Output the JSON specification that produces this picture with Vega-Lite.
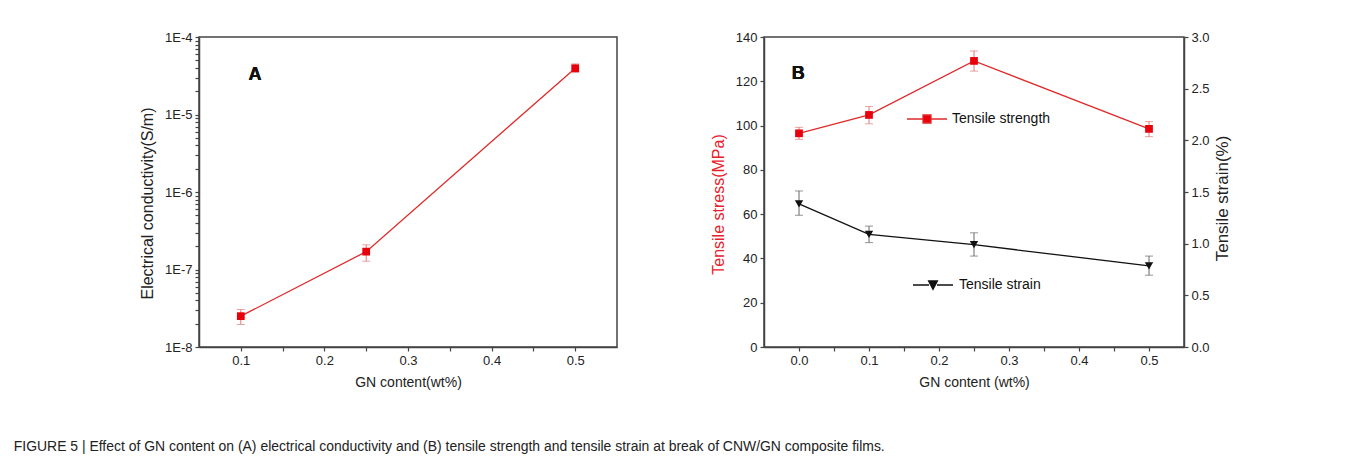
{
  "$schema": "https://vega.github.io/schema/vega-lite/v6.json",
  "background": "white",
  "padding": {"left": 13, "top": 30, "right": 10, "bottom": 10},
  "bounds": "flush",
  "spacing": 147,
  "title": {"text": "FIGURE 5 | Effect of GN content on (A) electrical conductivity and (B) tensile strength and tensile strain at break of CNW/GN composite films.", "orient": "bottom", "anchor": "start", "font": "Liberation Sans", "fontSize": 13.95, "fontWeight": "normal", "color": "#222", "offset": 50, "dx": -125},
  "config": {
    "font": "Liberation Sans",
    "view": {"stroke": "#444", "strokeWidth": 1.5},
    "axis": {"grid": false, "domainColor": "#444", "domainWidth": 1.5, "tickColor": "#444", "tickWidth": 1.2, "tickSize": 4, "labelPadding": 3, "labelFont": "Liberation Sans", "labelFontSize": 13, "labelColor": "#222", "titleFont": "Liberation Sans", "titleFontSize": 14, "titleFontWeight": "normal", "titleColor": "#222", "labelFlush": false, "labelOverlap": false},
    "legend": {"padding": 0}
  },
  "hconcat": [
    {
      "width": 418,
      "height": 310,
      "data": {"values": [
        {"gn": 0.1, "sigma": 2.5e-8, "lo": 1.95e-8, "hi": 3.05e-8},
        {"gn": 0.25, "sigma": 1.7e-7, "lo": 1.28e-7, "hi": 2.08e-7},
        {"gn": 0.5, "sigma": 3.95e-5, "lo": 3.5e-5, "hi": 4.5e-5}
      ]},
      "encoding": {
        "x": {"field": "gn", "type": "quantitative", "scale": {"domain": [0.05, 0.55], "nice": false, "zero": false},
          "axis": {"title": "GN content(wt%)", "titlePadding": 8, "values": [0.1, 0.15, 0.2, 0.25, 0.3, 0.35, 0.4, 0.45, 0.5],
            "labelExpr": "abs(datum.value*10 - round(datum.value*10)) < 1e-6 ? format(datum.value, '.1f') : ''",
            "encode": {"ticks": {"update": {"y": [{"test": "abs(datum.value*10 - round(datum.value*10)) < 1e-6", "value": -4}, {"value": 0}], "y2": [{"test": "abs(datum.value*10 - round(datum.value*10)) < 1e-6", "value": 4}, {"value": -3}]}}}}}
      },
      "layer": [
        {"mark": {"type": "errorbar", "color": "#e07a7a", "thickness": 1, "ticks": {"size": 8, "color": "#e07a7a", "thickness": 1}},
         "encoding": {"y": {"field": "lo", "type": "quantitative", "scale": {"type": "log", "domain": [1e-8, 1e-4], "nice": false},
           "axis": {"title": "Electrical conductivity(S/m)", "titleFontSize": 16, "titleY": 166, "titlePadding": 9,
             "values": [1e-8, 2e-8, 3e-8, 4e-8, 5e-8, 6e-8, 7e-8, 8e-8, 9e-8, 1e-7, 2e-7, 3e-7, 4e-7, 5e-7, 6e-7, 7e-7, 8e-7, 9e-7, 1e-6, 2e-6, 3e-6, 4e-6, 5e-6, 6e-6, 7e-6, 8e-6, 9e-6, 1e-5, 2e-5, 3e-5, 4e-5, 5e-5, 6e-5, 7e-5, 8e-5, 9e-5, 1e-4],
             "labelExpr": "abs(log(datum.value)/LN10 - round(log(datum.value)/LN10)) < 1e-6 ? '1E' + round(log(datum.value)/LN10) : ''",
             "encode": {"ticks": {"update": {"x": [{"test": "abs(log(datum.value)/LN10 - round(log(datum.value)/LN10)) < 1e-6", "value": 4}, {"value": 3}], "x2": [{"test": "abs(log(datum.value)/LN10 - round(log(datum.value)/LN10)) < 1e-6", "value": -4}, {"value": 0}]}}}}},
           "y2": {"field": "hi"}}},
        {"mark": {"type": "line", "color": "#e02a2a", "strokeWidth": 1.3},
         "encoding": {"y": {"field": "sigma", "type": "quantitative", "scale": {"type": "log", "domain": [1e-8, 1e-4], "nice": false}}}},
        {"mark": {"type": "point", "shape": "square", "filled": true, "size": 60, "color": "#e8000b", "opacity": 1},
         "encoding": {"y": {"field": "sigma", "type": "quantitative", "scale": {"type": "log", "domain": [1e-8, 1e-4], "nice": false}}}},
        {"mark": {"type": "text", "text": "A", "font": "Liberation Sans", "fontSize": 18, "fontWeight": "bold", "color": "#111", "align": "center", "baseline": "middle"},
         "encoding": {"x": {"datum": 0.117, "type": "quantitative"}, "y": {"datum": 3.25e-5, "type": "quantitative"}}}
      ]
    },
    {
      "width": 420,
      "height": 310,
      "encoding": {
        "x": {"field": "gn", "type": "quantitative", "scale": {"domain": [-0.05, 0.55], "nice": false, "zero": false},
          "axis": {"title": "GN content (wt%)", "titlePadding": 8, "values": [0, 0.05, 0.1, 0.15, 0.2, 0.25, 0.3, 0.35, 0.4, 0.45, 0.5],
            "labelExpr": "abs(datum.value*10 - round(datum.value*10)) < 1e-6 ? format(datum.value, '.1f') : ''",
            "encode": {"ticks": {"update": {"y": [{"test": "abs(datum.value*10 - round(datum.value*10)) < 1e-6", "value": -4}, {"value": 0}], "y2": [{"test": "abs(datum.value*10 - round(datum.value*10)) < 1e-6", "value": 4}, {"value": -3}]}}}}}
      },
      "layer": [
        {
          "data": {"values": [
            {"gn": 0.0, "stress": 96.5, "lo": 93.8, "hi": 99.2, "series": "Tensile strength"},
            {"gn": 0.1, "stress": 104.8, "lo": 100.8, "hi": 108.6, "series": "Tensile strength"},
            {"gn": 0.25, "stress": 129.2, "lo": 124.6, "hi": 133.7, "series": "Tensile strength"},
            {"gn": 0.5, "stress": 98.5, "lo": 95.0, "hi": 101.8, "series": "Tensile strength"}
          ]},
          "layer": [
            {"mark": {"type": "errorbar", "color": "#e07a7a", "thickness": 1, "ticks": {"size": 8, "color": "#e07a7a", "thickness": 1}},
             "encoding": {"y": {"field": "lo", "type": "quantitative", "scale": {"domain": [0, 140], "nice": false},
                 "axis": {"orient": "left", "title": "Tensile stress(MPa)", "titleFontSize": 16, "titleColor": "#e8202a", "titleY": 167, "titlePadding": 9,
                   "values": [0, 10, 20, 30, 40, 50, 60, 70, 80, 90, 100, 110, 120, 130, 140],
                   "labelExpr": "datum.value % 20 == 0 ? '' + datum.value : ''",
                   "encode": {"ticks": {"update": {"x": [{"test": "datum.value % 20 == 0", "value": 4}, {"value": 3}], "x2": [{"test": "datum.value % 20 == 0", "value": -4}, {"value": 0}]}}}}},
                 "y2": {"field": "hi"}}},
            {"mark": {"type": "line", "strokeWidth": 1.3},
             "encoding": {
               "y": {"field": "stress", "type": "quantitative", "scale": {"domain": [0, 140], "nice": false}},
               "color": {"field": "series", "type": "nominal", "scale": {"domain": ["Tensile strength"], "range": ["#e02a2a"]},
                 "legend": {"orient": "none", "legendX": 142, "legendY": 61, "title": null, "labelFont": "Liberation Sans", "labelFontSize": 14, "labelColor": "#111", "labelOffset": 4,
                   "symbolType": "M-1,0H-0.2M0.2,0H1M-0.2,-0.2H0.2V0.2H-0.2Z", "symbolSize": 1600, "symbolStrokeWidth": 1.3,
                   "encode": {"symbols": {"update": {"fill": {"value": "#e8000b"}, "stroke": {"value": "#e02a2a"}, "opacity": {"value": 1}}}}}}
             }},
            {"mark": {"type": "point", "shape": "square", "filled": true, "size": 60, "color": "#e8000b", "opacity": 1},
             "encoding": {"y": {"field": "stress", "type": "quantitative", "scale": {"domain": [0, 140], "nice": false}}}},
            {"mark": {"type": "text", "text": "B", "font": "Liberation Sans", "fontSize": 18, "fontWeight": "bold", "color": "#111", "align": "center", "baseline": "middle"},
             "encoding": {"x": {"datum": -0.001, "type": "quantitative"}, "y": {"datum": 123.2, "type": "quantitative"}}}
          ]
        },
        {
          "data": {"values": [
            {"gn": 0.0, "strain": 1.385, "lo": 1.275, "hi": 1.51, "series": "Tensile strain"},
            {"gn": 0.1, "strain": 1.09, "lo": 1.01, "hi": 1.17, "series": "Tensile strain"},
            {"gn": 0.25, "strain": 0.99, "lo": 0.88, "hi": 1.105, "series": "Tensile strain"},
            {"gn": 0.5, "strain": 0.785, "lo": 0.695, "hi": 0.88, "series": "Tensile strain"}
          ]},
          "layer": [
            {"mark": {"type": "errorbar", "color": "#666", "thickness": 1, "ticks": {"size": 8, "color": "#666", "thickness": 1}},
             "encoding": {"y": {"field": "lo", "type": "quantitative", "scale": {"domain": [0, 3], "nice": false},
                 "axis": {"orient": "right", "title": "Tensile strain(%)", "titleFontSize": 17, "titleAngle": 270, "titleBaseline": "top", "titleY": 161, "titlePadding": 5,
                   "values": [0, 0.25, 0.5, 0.75, 1, 1.25, 1.5, 1.75, 2, 2.25, 2.5, 2.75, 3],
                   "labelExpr": "abs(datum.value*2 - round(datum.value*2)) < 1e-6 ? format(datum.value, '.1f') : ''",
                   "encode": {"ticks": {"update": {"x": [{"test": "abs(datum.value*2 - round(datum.value*2)) < 1e-6", "value": -4}, {"value": -3}], "x2": [{"test": "abs(datum.value*2 - round(datum.value*2)) < 1e-6", "value": 4}, {"value": 0}]}}}}},
                 "y2": {"field": "hi"}}},
            {"mark": {"type": "line", "strokeWidth": 1.3},
             "encoding": {
               "y": {"field": "strain", "type": "quantitative", "scale": {"domain": [0, 3], "nice": false}},
               "color": {"field": "series", "type": "nominal", "scale": {"domain": ["Tensile strain"], "range": ["#111111"]},
                 "legend": {"orient": "none", "legendX": 148, "legendY": 227, "title": null, "labelFont": "Liberation Sans", "labelFontSize": 14, "labelColor": "#111", "labelOffset": 5,
                   "symbolType": "M-1,0H-0.2M0.2,0H1M-0.22,-0.2H0.22L0,0.22Z", "symbolSize": 1600, "symbolStrokeWidth": 1.3,
                   "encode": {"symbols": {"update": {"fill": {"value": "#111"}, "stroke": {"value": "#111"}, "opacity": {"value": 1}}}}}}
             }},
            {"mark": {"type": "point", "shape": "triangle-down", "filled": true, "size": 70, "color": "#111", "opacity": 1},
             "encoding": {"y": {"field": "strain", "type": "quantitative", "scale": {"domain": [0, 3], "nice": false}}}}
          ]
        }
      ],
      "resolve": {"scale": {"y": "independent", "color": "independent"}}
    }
  ]
}
